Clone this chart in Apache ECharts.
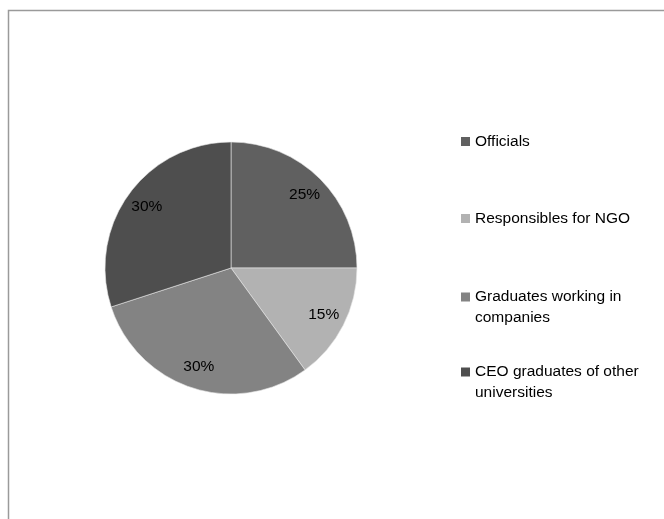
<!DOCTYPE html>
<html>
<head>
<meta charset="utf-8">
<script src="https://cdn.jsdelivr.net/npm/echarts@6/dist/echarts.min.js"></script>
<style>html,body{margin:0;padding:0;background:#fff;}#c{width:664px;height:519px;}</style>
</head>
<body>
<div id="c"></div>
<script>
var categories = ['Officials', 'Responsibles for NGO', 'Graduates working in companies', 'CEO graduates of other universities'];
var legendLabels = ['Officials', 'Responsibles for NGO', 'Graduates working in\ncompanies', 'CEO graduates of other\nuniversities'];
var values = [25, 15, 30, 30];
var colors = ['#606060', '#b2b2b2', '#838383', '#4e4e4e'];

var FONT = '"Liberation Sans", Arial, sans-serif';
var data = categories.map(function (c, i) {
  return { name: c, value: values[i], itemStyle: { color: colors[i] } };
});
var labelData = categories.map(function (c, i) {
  return { name: c, value: values[i] };
});

var legendTops = [131, 208, 265.5, 340.5];
var legends = categories.map(function (c, i) {
  var multi = legendLabels[i].indexOf('\n') >= 0;
  return {
    left: 461, top: legendTops[i], orient: 'vertical',
    data: [c], itemWidth: 9, itemHeight: 9, icon: 'rect',
    selectedMode: false, padding: 0,
    itemStyle: { borderWidth: 0 },
    formatter: function () { return multi ? '\n' + legendLabels[i] : legendLabels[i]; },
    textStyle: { fontFamily: FONT, fontSize: 15.5, color: '#000', lineHeight: 21 }
  };
});

var chart = echarts.init(document.getElementById('c'), null, { renderer: 'canvas' });
chart.setOption({
  animation: false,
  backgroundColor: '#fff',
  graphic: [{
    type: 'rect', shape: { x: 8.5, y: 10.5, width: 800, height: 700 },
    style: { fill: 'none', stroke: '#9a9a9a', lineWidth: 1.5 }, silent: true, z: 0
  }],
  legend: legends,
  series: [{
    type: 'pie', center: [231, 268], radius: [0, 126], startAngle: 90, clockwise: true,
    data: data, label: { show: false }, labelLine: { show: false },
    itemStyle: { borderColor: '#e8e8e8', borderWidth: 0.6 },
    emphasis: { disabled: true }, silent: true
  }, {
    type: 'pie', center: [231, 268], radius: [76, 126], startAngle: 90, clockwise: true,
    data: labelData,
    itemStyle: { color: 'rgba(0,0,0,0)' },
    label: { show: true, position: 'inside', formatter: '{d}%', fontFamily: FONT, fontSize: 15.5, color: '#000' },
    labelLine: { show: false }, emphasis: { disabled: true }, silent: true
  }]
});
</script>
</body>
</html>
